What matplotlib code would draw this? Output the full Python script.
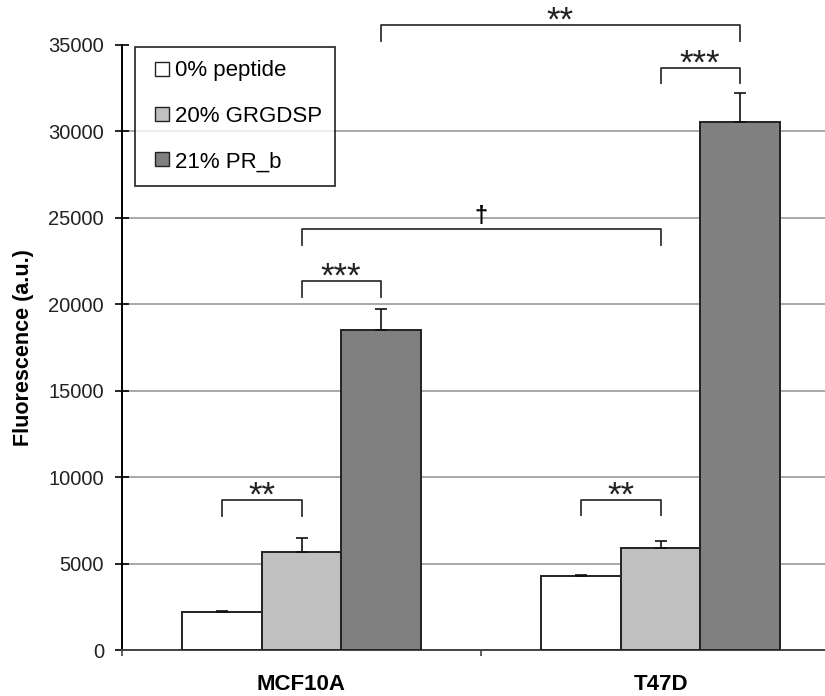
import numpy as np
import matplotlib
matplotlib.use('Agg')
import matplotlib.pyplot as plt
from matplotlib.lines import Line2D

plt.rcParams['font.family'] = ['Liberation Sans', 'DejaVu Sans']

# data
cell_lines = ['MCF10A', 'T47D']
series = ['0% peptide', '20% GRGDSP', '21% PR_b']
colors = ['#FFFFFF', '#C0C0C0', '#808080']
means = [[2200, 4300],      # 0% peptide
         [5650, 5900],      # 20% GRGDSP
         [18500, 30550]]    # 21% PR_b
errs = [[50, 50],
        [820, 400],
        [1200, 1650]]

# significance brackets: (group, series) start, (group, series) end, top, label
brackets = [((0, 0), (0, 1), 8650, '**'),
            ((1, 0), (1, 1), 8690, '**'),
            ((0, 1), (0, 2), 21340, '***'),
            ((0, 1), (1, 1), 24340, '\u2020'),
            ((1, 1), (1, 2), 33690, '***'),
            ((0, 2), (1, 2), 36150, '**')]

fig = plt.figure(figsize=(8.25, 6.96), dpi=100)
ax = fig.add_axes([122 / 825, 46 / 696, 718 / 825, 605 / 696])

w = 0.221
x = np.arange(len(cell_lines))
offsets = [-w, 0, w]

for i in range(3):
    ax.bar(x + offsets[i], means[i], width=w, color=colors[i],
           edgecolor='#222222', linewidth=1.4, zorder=3)
    ax.errorbar(x + offsets[i], means[i], yerr=[[0, 0], errs[i]],
                fmt='none', ecolor='#111111', elinewidth=1.2,
                capsize=4.5, capthick=1.2, zorder=4)

# brackets
leg = 900
for (g1, s1), (g2, s2), top, lab in brackets:
    x1 = x[g1] + offsets[s1]
    x2 = x[g2] + offsets[s2]
    ax.plot([x1, x1, x2, x2], [top - leg, top, top, top - leg],
            color='#333333', lw=1.3, clip_on=False, zorder=5)
    if lab == '\u2020':
        ax.annotate(lab, xy=((x1 + x2) / 2, top), xytext=(0, 1),
                    textcoords='offset points', ha='center', va='bottom',
                    fontsize=17, fontweight='bold', annotation_clip=False)
    else:
        ax.annotate(lab, xy=((x1 + x2) / 2, top), xytext=(0, -4),
                    textcoords='offset points', ha='center', va='baseline',
                    fontsize=25, color='#222222', annotation_clip=False)

ax.set_xlim(-0.5, 1.5)
ax.set_ylim(0, 35000)
ax.set_yticks(np.arange(0, 35001, 5000))
ax.yaxis.grid(True, color='#A8A8A8', linewidth=1.4, zorder=0)
ax.get_ygridlines()[-1].set_visible(False)
ax.set_axisbelow(True)

ax.set_xticks([-0.5, 0.5, 1.5])
ax.set_xticklabels([])
ax.set_xticks(x, minor=True)
ax.set_xticklabels(cell_lines, minor=True, fontsize=16, fontweight='bold')
ax.tick_params(axis='x', which='minor', length=0, pad=17)
ax.tick_params(axis='x', which='major', length=4.5, width=1.2, color='#444444')
ax.tick_params(axis='y', direction='inout', length=10, width=1.2,
               labelsize=14.5, pad=8, labelcolor='#222222')

ax.spines['top'].set_visible(False)
ax.spines['right'].set_visible(False)
ax.spines['left'].set_linewidth(1.4)
ax.spines['bottom'].set_linewidth(1.4)
ax.spines['bottom'].set_color('#444444')

ax.set_ylabel('Fluorescence (a.u.)', fontsize=15.5, fontweight='bold')
ax.yaxis.set_label_coords(-0.1226, 0.5)

handles = [Line2D([], [], marker='s', linestyle='none', markersize=9.5,
                  markerfacecolor=c, markeredgecolor='#222222',
                  markeredgewidth=1.0) for c in colors]
lg = fig.legend(handles, series, loc='upper left',
                bbox_to_anchor=(135 / 825, 1 - 47 / 696),
                bbox_transform=fig.transFigure, borderaxespad=0,
                fontsize=16, frameon=True, fancybox=False,
                borderpad=0.6, handlelength=1.2, handletextpad=0.0,
                labelspacing=1.1)
lg.get_frame().set_edgecolor('black')
lg.get_frame().set_linewidth(1.3)

fig.savefig('out.png', dpi=100)
